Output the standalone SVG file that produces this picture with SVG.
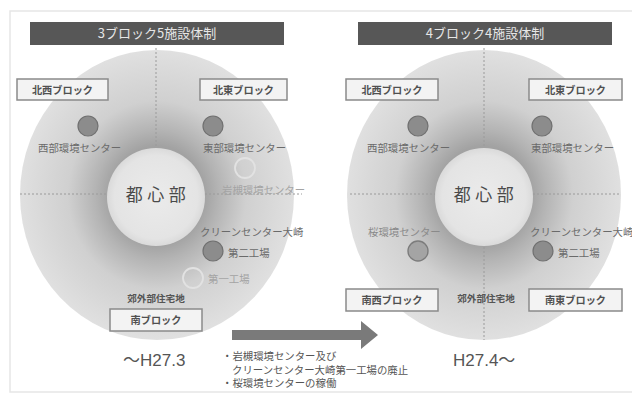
<svg xmlns="http://www.w3.org/2000/svg" width="632" height="399" viewBox="0 0 632 399">
<defs>
<radialGradient id="ring" cx="0.5" cy="0.5" r="0.5">
<stop offset="0" stop-color="#9a9a9a"/>
<stop offset="0.34" stop-color="#a2a2a2"/>
<stop offset="0.45" stop-color="#b4b4b4"/>
<stop offset="0.65" stop-color="#d0d0d0"/>
<stop offset="0.85" stop-color="#d9d9d9"/>
<stop offset="1" stop-color="#e0e0e0"/>
</radialGradient>
<radialGradient id="core" cx="0.5" cy="0.5" r="0.5">
<stop offset="0" stop-color="#ebebeb"/>
<stop offset="0.85" stop-color="#e4e4e4"/>
<stop offset="1" stop-color="#dadada"/>
</radialGradient>
<style>
text{font-family:"Noto Sans CJK JP","Noto Sans",sans-serif;}
.title{fill:#575757;}
.ttl{fill:#e6e6e6;font-size:13px;text-anchor:middle;}
.box{fill:#f3f3f3;stroke:#8a8a8a;stroke-width:1.5;}
.blk{fill:#505050;font-size:10.2px;font-weight:bold;text-anchor:middle;}
.lbl{fill:#6a6a6a;font-size:10.4px;}
.fade{fill:#a4a4a4;font-size:10.4px;}
.mid{fill:#8a8a8a;font-size:10.4px;}
.sub{fill:#555;font-size:9.6px;font-weight:bold;text-anchor:middle;}
.dot{fill:#8c8c8c;stroke:#707070;stroke-width:1.2;}
.ghost{fill:none;stroke:#e2e2e2;stroke-width:1.8;}
.sakura{fill:#a4a4a4;stroke:#7c7c7c;stroke-width:1.4;}
.center{fill:#4a4a4a;font-size:17px;text-anchor:middle;letter-spacing:4.5px;}
.era{fill:#555;font-size:17px;font-family:"Liberation Sans","Noto Sans CJK JP",sans-serif;}
.note{fill:#555;font-size:10.4px;}
.dash{stroke:#9a9a9a;stroke-width:1;stroke-dasharray:2 2;fill:none;}
</style>
</defs>
<rect x="0" y="0" width="632" height="399" fill="#ffffff"/>
<rect x="10" y="11" width="630" height="381" fill="none" stroke="#e6e6e6" stroke-width="1.5"/>

<g id="left-area">
<ellipse cx="157" cy="195" rx="137" ry="145" fill="url(#ring)"/>
<circle cx="156" cy="197" r="49" fill="url(#core)"/>
</g>
<g id="right-area">
<ellipse cx="484" cy="195" rx="137" ry="145" fill="url(#ring)"/>
<circle cx="484" cy="197" r="49" fill="url(#core)"/>
</g>

<g id="dividers">
<line class="dash" x1="156" y1="48" x2="156" y2="148"/>
<line class="dash" x1="20" y1="194" x2="107" y2="194"/>
<line class="dash" x1="205" y1="194" x2="302" y2="194"/>
<line class="dash" x1="484" y1="48" x2="484" y2="148"/>
<line class="dash" x1="484" y1="247" x2="484" y2="340"/>
<line class="dash" x1="350" y1="194" x2="435" y2="194"/>
<line class="dash" x1="533" y1="194" x2="621" y2="194"/>
</g>

<g id="title-left">
<rect class="title" x="30" y="22" width="254" height="23"/>
<text class="ttl" x="157" y="38">3ブロック5施設体制</text>
</g>
<g id="title-right">
<rect class="title" x="358" y="22" width="254" height="23"/>
<text class="ttl" x="485" y="38">4ブロック4施設体制</text>
</g>

<g id="L-center"><text class="center" x="158" y="201">都心部</text></g>
<g id="R-center"><text class="center" x="486" y="201">都心部</text></g>

<g id="L-nw-block"><rect class="box" x="17" y="79" width="91" height="21"/><text class="blk" x="62.5" y="93.5">北西ブロック</text></g>
<g id="L-ne-block"><rect class="box" x="200" y="79" width="87" height="21"/><text class="blk" x="243.5" y="93.5">北東ブロック</text></g>
<g id="L-s-block"><rect class="box" x="110" y="309" width="92" height="22"/><text class="blk" x="156" y="324">南ブロック</text></g>

<g id="L-west"><circle class="dot" cx="88" cy="126" r="10"/><text class="lbl" x="38" y="152">西部環境センター</text></g>
<g id="L-east"><circle class="dot" cx="213" cy="126" r="10"/><text class="lbl" x="203" y="152">東部環境センター</text></g>
<g id="L-iwatsuki"><circle class="ghost" cx="245" cy="168" r="10"/><text class="fade" x="222" y="194">岩槻環境センター</text></g>
<g id="L-osaki2"><text class="lbl" x="200" y="236">クリーンセンター大崎</text><circle class="dot" cx="213" cy="251" r="10"/><text class="lbl" x="228" y="257">第二工場</text></g>
<g id="L-osaki1"><circle class="ghost" cx="193" cy="278" r="10"/><text class="fade" x="208" y="283">第一工場</text></g>
<g id="L-suburb"><text class="sub" x="156" y="302">郊外部住宅地</text></g>
<g id="L-era"><text class="era" x="123" y="366">～H27.3</text></g>

<g id="R-nw-block"><rect class="box" x="346" y="79" width="92" height="21"/><text class="blk" x="392" y="93.5">北西ブロック</text></g>
<g id="R-ne-block"><rect class="box" x="529" y="79" width="93" height="21"/><text class="blk" x="575.5" y="93.5">北東ブロック</text></g>
<g id="R-sw-block"><rect class="box" x="346" y="289" width="92" height="22"/><text class="blk" x="392" y="304">南西ブロック</text></g>
<g id="R-se-block"><rect class="box" x="529" y="289" width="93" height="22"/><text class="blk" x="575.5" y="304">南東ブロック</text></g>

<g id="R-west"><circle class="dot" cx="418" cy="126" r="10"/><text class="lbl" x="367" y="152">西部環境センター</text></g>
<g id="R-east"><circle class="dot" cx="542" cy="126" r="10"/><text class="lbl" x="531" y="152">東部環境センター</text></g>
<g id="R-sakura"><text class="mid" x="368" y="236">桜環境センター</text><circle class="sakura" cx="418" cy="251" r="10"/></g>
<g id="R-osaki2"><text class="lbl" x="530" y="236">クリーンセンター大崎</text><circle class="dot" cx="543" cy="251" r="10"/><text class="lbl" x="558" y="257">第二工場</text></g>
<g id="R-suburb"><text class="sub" x="486" y="302">郊外部住宅地</text></g>
<g id="R-era"><text class="era" x="453" y="366">H27.4～</text></g>

<g id="connectors">
<polygon fill="#7a7a7a" points="232,330 361,330 361,321 378,335 361,349 361,340 232,340"/>
</g>

<g id="notes">
<text class="note" x="222" y="360">・岩槻環境センター及び</text>
<text class="note" x="232" y="373.5">クリーンセンター大崎第一工場の廃止</text>
<text class="note" x="222" y="387">・桜環境センターの稼働</text>
</g>
</svg>
